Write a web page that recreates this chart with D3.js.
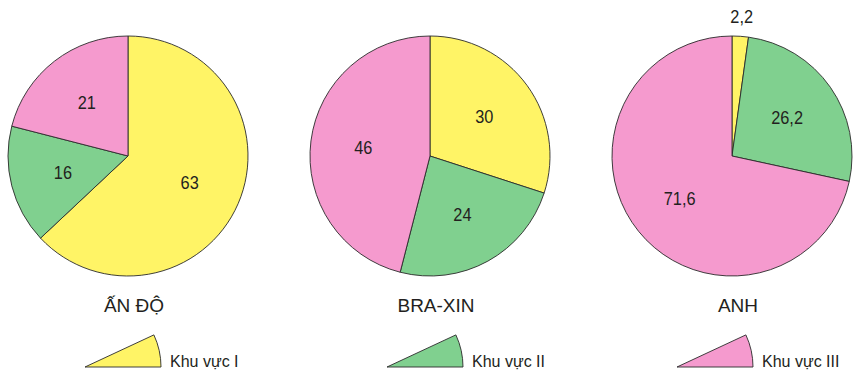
<!DOCTYPE html>
<html>
<head>
<meta charset="utf-8">
<script src="https://cdn.jsdelivr.net/npm/d3@7"></script>
<style>
  html, body { margin: 0; padding: 0; background: #fff; }
  svg { display: block; }
</style>
</head>
<body>
<svg id="chart" width="863" height="383"></svg>
<script>
// ---- data ----
const countries = ["ẤN ĐỘ", "BRA-XIN", "ANH"];
const sectors = ["Khu vực I", "Khu vực II", "Khu vực III"];
const khuVucI   = [63, 30, 2.2];
const khuVucII  = [16, 24, 26.2];
const khuVucIII = [21, 46, 71.6];
const sectorColors = ["#FFF466", "#80D08F", "#F59ACE"];

// ---- layout ----
const W = 863, H = 383;
const R = 120;
const cy = 156;
const firstCx = 128, gap = 302;
const legendX = [85, 387, 677];
const legendY = 367;

const svg = d3.select("#chart");
const fmt = v => String(v).replace(".", ",");
const narrow = "'Liberation Sans Narrow', 'Arial Narrow', 'Liberation Sans', Arial, sans-serif";

const pie = d3.pie().sort(null).value(d => d.value);
const arc = d3.arc().innerRadius(0).outerRadius(R);
const labelArc = d3.arc().innerRadius(R * 0.56).outerRadius(R * 0.56);
const outerLabelArc = d3.arc().innerRadius(R + 20).outerRadius(R + 20);

countries.forEach((name, i) => {
  const cx = firstCx + i * gap;
  const data = [
    { key: 0, value: khuVucI[i] },
    { key: 1, value: khuVucII[i] },
    { key: 2, value: khuVucIII[i] }
  ];
  const g = svg.append("g").attr("transform", `translate(${cx},${cy})`);
  const arcs = pie(data);
  g.selectAll("path").data(arcs).join("path")
    .attr("d", arc)
    .attr("fill", d => sectorColors[d.data.key])
    .attr("stroke", "#2a2a2a")
    .attr("stroke-width", 0.9)
    .attr("stroke-linejoin", "round");

  g.selectAll("text.val").data(arcs).join("text")
    .attr("class", "val")
    .attr("transform", d => {
      const small = (d.endAngle - d.startAngle) < 0.3;
      const c = (small ? outerLabelArc : labelArc).centroid(d);
      return `translate(${c[0]},${c[1]}) scale(0.86,1)`;
    })
    .attr("text-anchor", "middle")
    .attr("dominant-baseline", "central")
    .attr("font-family", narrow)
    .attr("font-size", 19)
    .attr("fill", "#231f20")
    .text(d => fmt(d.data.value));

  svg.append("text")
    .attr("x", cx + 6)
    .attr("y", 312)
    .attr("text-anchor", "middle")
    .attr("font-family", "'Liberation Sans', Arial, sans-serif")
    .attr("font-size", 19)
    .attr("fill", "#231f20")
    .text(name);
});

// ---- legend ----
const legendArc = d3.arc().innerRadius(0).outerRadius(76)
  .startAngle(65 * Math.PI / 180).endAngle(Math.PI / 2);

sectors.forEach((s, i) => {
  const lg = svg.append("g").attr("transform", `translate(${legendX[i]},${legendY})`);
  lg.append("path")
    .attr("d", legendArc())
    .attr("fill", sectorColors[i])
    .attr("stroke", "#2a2a2a")
    .attr("stroke-width", 0.9)
    .attr("stroke-linejoin", "round");
  lg.append("text")
    .attr("x", 85)
    .attr("y", 0)
    .attr("font-family", narrow)
    .attr("font-size", 16)
    .attr("fill", "#231f20")
    .text(s);
});
</script>
</body>
</html>
